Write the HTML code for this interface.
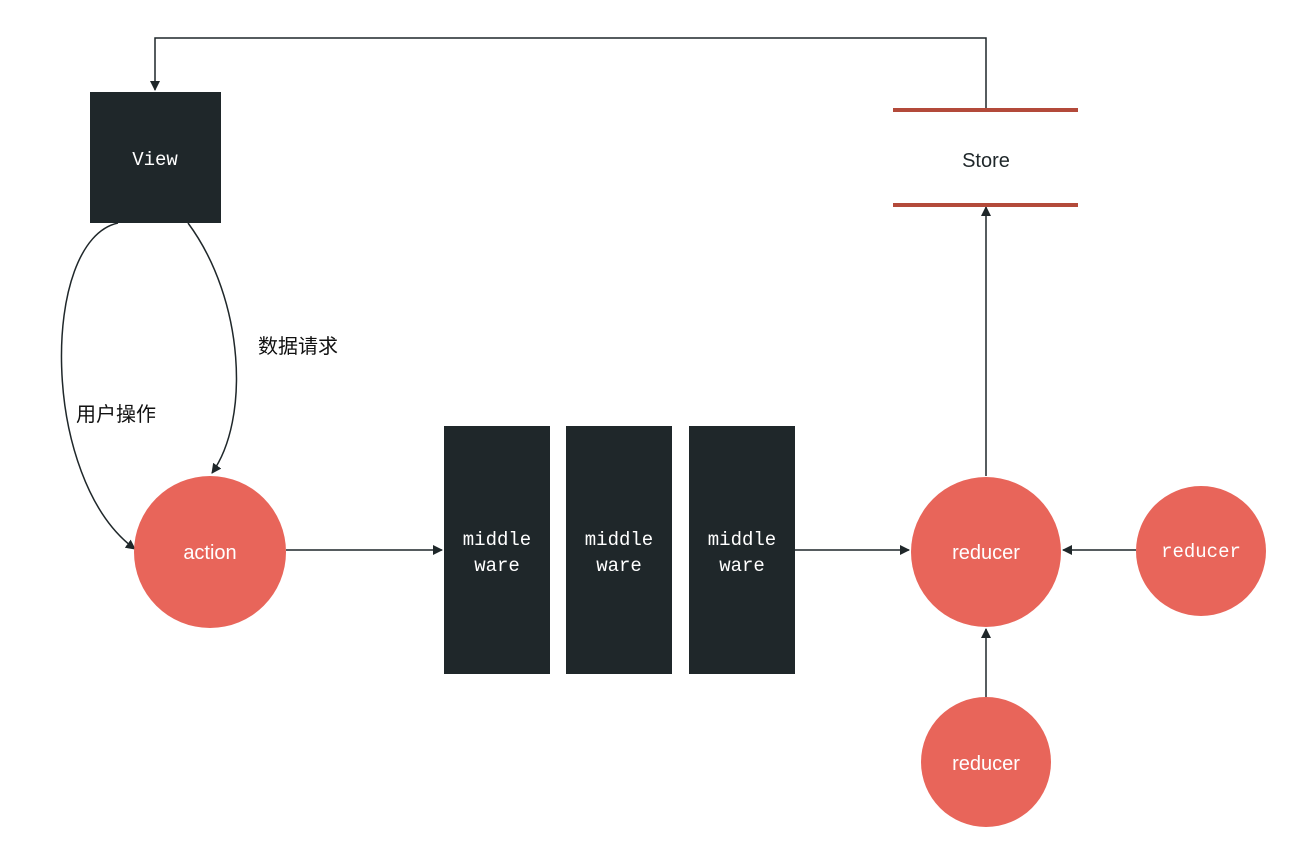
<!DOCTYPE html>
<html><head><meta charset="utf-8"><style>
html,body{margin:0;padding:0;background:#fff;width:1304px;height:856px;overflow:hidden}
</style></head><body>
<svg width="1304" height="856" xmlns="http://www.w3.org/2000/svg">
<defs>
<marker id="a" markerWidth="10" markerHeight="10" refX="9" refY="5" orient="auto" markerUnits="userSpaceOnUse">
<path d="M0,0 L10,5 L0,10 z" fill="#1f272a"/></marker>
</defs>
<g stroke="#1f272a" stroke-width="1.5" fill="none">
<polyline points="986,110 986,38 155,38 155,90" marker-end="url(#a)"/>
<path d="M118,223 C40,240 40,480 135,549" marker-end="url(#a)"/>
<path d="M188,223 C245,300 250,420 212,473" marker-end="url(#a)"/>
<line x1="286" y1="550" x2="442" y2="550" marker-end="url(#a)"/>
<line x1="795" y1="550" x2="909" y2="550" marker-end="url(#a)"/>
<line x1="986" y1="476" x2="986" y2="207" marker-end="url(#a)"/>
<line x1="1136" y1="550" x2="1063" y2="550" marker-end="url(#a)"/>
<line x1="986" y1="697" x2="986" y2="629" marker-end="url(#a)"/>
</g>
<rect x="90" y="92" width="131" height="131" fill="#1f272a"/>
<rect x="444" y="426" width="106" height="248" fill="#1f272a"/>
<rect x="566" y="426" width="106" height="248" fill="#1f272a"/>
<rect x="689" y="426" width="106" height="248" fill="#1f272a"/>
<line x1="893" y1="110" x2="1078" y2="110" stroke="#b34a3a" stroke-width="4"/>
<line x1="893" y1="205" x2="1078" y2="205" stroke="#b34a3a" stroke-width="4"/>
<circle cx="210" cy="552" r="76" fill="#e8655a"/>
<circle cx="986" cy="552" r="75" fill="#e8655a"/>
<circle cx="1201" cy="551" r="65" fill="#e8655a"/>
<circle cx="986" cy="762" r="65" fill="#e8655a"/>
<g font-family="Liberation Mono, monospace" font-size="19" fill="#fff" text-anchor="middle">
<text x="155" y="165">View</text>
<text x="497" y="545">middle</text><text x="497" y="571">ware</text>
<text x="619" y="545">middle</text><text x="619" y="571">ware</text>
<text x="742" y="545">middle</text><text x="742" y="571">ware</text>
<text x="1201" y="557">reducer</text>
</g>
<g font-family="Liberation Sans, sans-serif" font-size="20" text-anchor="middle">
<text x="986" y="167" fill="#1f272a">Store</text>
<text x="210" y="559" fill="#fff">action</text>
<text x="986" y="559" fill="#fff">reducer</text>
<text x="986" y="770" fill="#fff">reducer</text>
</g>
<g font-family="Liberation Sans, 'Noto Sans CJK SC', sans-serif" font-size="20" fill="#111">
<text x="258" y="353">数据请求</text>
<text x="76" y="421">用户操作</text>
</g>
</svg>
</body></html>
